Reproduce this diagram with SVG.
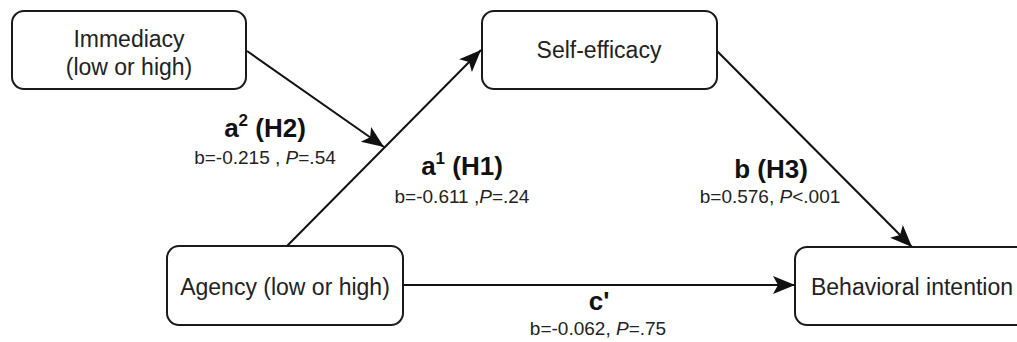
<svg xmlns="http://www.w3.org/2000/svg" width="1017" height="342" viewBox="0 0 1017 342">
<style>
.box{fill:#fff;stroke:#1a1a1a;stroke-width:2}
.nt{font-family:"Liberation Sans",Arial,sans-serif;font-size:23px;fill:#222;text-anchor:middle}
.lb{font-family:"Liberation Sans",Arial,sans-serif;font-size:26px;font-weight:bold;fill:#111;text-anchor:middle}
.st{font-family:"Liberation Sans",Arial,sans-serif;font-size:19px;fill:#222;text-anchor:middle}
.edge{stroke:#111;stroke-width:2;fill:none}
</style>
<defs>
<marker id="ah" markerUnits="userSpaceOnUse" markerWidth="24" markerHeight="20" refX="22" refY="9" orient="auto">
<path d="M0,0 L22,9 L0,18 L5,9 z" fill="#111"/>
</marker>
</defs>
<rect width="1017" height="342" fill="#fff"/>
<g id="connectors">
<line class="edge" x1="247" y1="51" x2="384" y2="147" marker-end="url(#ah)"/>
<line class="edge" x1="287" y1="246" x2="481" y2="50" marker-end="url(#ah)"/>
<line class="edge" x1="717" y1="51" x2="912" y2="247" marker-end="url(#ah)"/>
<line class="edge" x1="403" y1="285" x2="795" y2="285" marker-end="url(#ah)"/>
</g>
<g id="immediacy">
<rect class="box" x="12" y="11" width="234" height="78" rx="12"/>
<text class="nt" x="129" y="47">Immediacy</text>
<text class="nt" x="129" y="75">(low or high)</text>
</g>
<g id="self-efficacy">
<rect class="box" x="482" y="11" width="235" height="78" rx="12"/>
<text class="nt" x="599" y="58">Self-efficacy</text>
</g>
<g id="agency">
<rect class="box" x="167" y="246" width="236" height="79" rx="12"/>
<text class="nt" x="285" y="295">Agency (low or high)</text>
</g>
<g id="behavioral-intention">
<rect class="box" x="795" y="247" width="240" height="78" rx="12"/>
<text class="nt" x="912" y="295">Behavioral intention</text>
</g>
<g id="labels">
<text class="lb" x="265" y="137">a<tspan font-size="17" dy="-11">2</tspan><tspan dy="11"> (H2)</tspan></text>
<text class="st" x="265" y="164">b=-0.215 , <tspan font-style="italic">P</tspan>=.54</text>
<text class="lb" x="462" y="175">a<tspan font-size="17" dy="-11">1</tspan><tspan dy="11"> (H1)</tspan></text>
<text class="st" x="462" y="203">b=-0.611 ,<tspan font-style="italic">P</tspan>=.24</text>
<text class="lb" x="771" y="178">b (H3)</text>
<text class="st" x="770" y="203">b=0.576, <tspan font-style="italic">P</tspan>&lt;.001</text>
<text class="lb" x="599" y="310">c'</text>
<text class="st" x="598" y="335">b=-0.062, <tspan font-style="italic">P</tspan>=.75</text>
</g>
</svg>
